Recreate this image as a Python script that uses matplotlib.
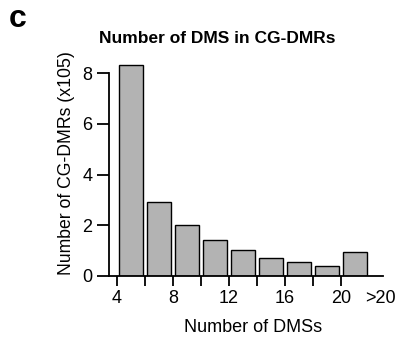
import matplotlib.pyplot as plt
import numpy as np

plt.rcParams['font.family'] = ['Liberation Sans', 'DejaVu Sans']

# DMS count bins (bar centres) and number of CG-DMRs per bin (x10^5)
bin_centers = [5, 7, 9, 11, 13, 15, 17, 19, 21]
n_dmrs = [8.33, 2.90, 2.02, 1.41, 1.02, 0.71, 0.53, 0.37, 0.95]
major_ticks = [4, 8, 12, 16, 20]
y_ticks = [0, 2, 4, 6, 8]

fig = plt.figure(figsize=(3.98, 3.4), dpi=100)
ax = fig.add_axes([109/398, 64.3/340, 274/398, 212.5/340])

ax.bar(bin_centers, n_dmrs, width=1.72, color='#b3b3b3', edgecolor='black', linewidth=1.0)

ax.set_xlim(3.45, 23.0)
ax.set_ylim(0, 8.4)
ax.spines['top'].set_visible(False)
ax.spines['right'].set_visible(False)
ax.spines['left'].set_bounds(0, 8)
ax.spines['left'].set_linewidth(1.3)
ax.spines['bottom'].set_linewidth(1.3)

# ticks every 2, labels every 4, plus an unticked ">20" label
xt = list(np.arange(4, 21, 2)) + [22.8]
ax.set_xticks(xt)
ax.set_xticklabels([str(v) if v in major_ticks else '' for v in xt[:-1]] + ['>20'])
ax.xaxis.get_major_ticks()[-1].tick1line.set_visible(False)
ax.set_yticks(y_ticks)
ax.tick_params(axis='x', length=7, width=1.3, labelsize=13, pad=3)
ax.tick_params(axis='y', length=9, width=1.3, labelsize=13, pad=3)

ax.set_xlabel('Number of DMSs', fontsize=13)
ax.xaxis.set_label_coords(0.527, -0.205)
ax.set_ylabel('Number of CG-DMRs (x105)', fontsize=12.7)
ax.yaxis.set_label_coords(-0.124, 0.53)

fig.text(217/398, 1 - 43/340, 'Number of DMS in CG-DMRs', ha='center', va='baseline',
         fontsize=12.5, fontweight='bold')
fig.text(9/398, 1 - 27/340, 'c', ha='left', va='baseline', fontsize=23, fontweight='bold')

fig.savefig('out.png', dpi=100)
